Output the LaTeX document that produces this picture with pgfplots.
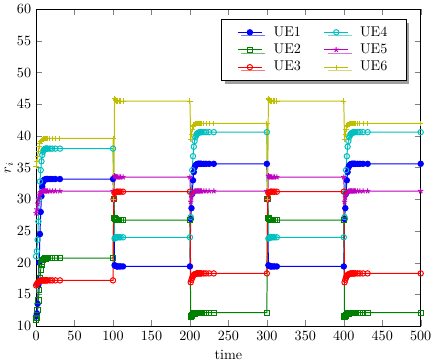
\documentclass[border=0pt]{standalone}
\usepackage{pgfplots}
\usepackage{pgfplotstable}
\pgfplotsset{compat=1.18}
\usetikzlibrary{shadows}
\definecolor{mb}{rgb}{0,0,1}
\definecolor{mg}{rgb}{0,0.5,0}
\definecolor{mr}{rgb}{1,0,0}
\definecolor{mc}{rgb}{0,0.75,0.75}
\definecolor{mm}{rgb}{0.75,0,0.75}
\definecolor{my}{rgb}{0.75,0.75,0}
\pgfplotstableread{
t u1 u2 u3 u4 u5 u6
0 11.5 11.0 16.4 21.0 27.8 35.2
1 12.0 11.3 16.6 21.8 28.4 35.9
2 13.5 12.5 16.8 23.6 29.3 36.8
3 16.5 14.0 16.95 26.5 30.0 37.6
4 20.0 15.7 17.05 30.0 30.6 38.3
5 24.5 17.5 17.1 32.8 30.9 38.8
6 28.0 18.9 17.15 34.6 31.1 39.1
7 30.5 19.7 17.2 36.0 31.2 39.3
8 32.0 20.2 17.2 37.0 31.3 39.45
9 32.7 20.4 17.2 37.5 31.3 39.5
10 33.0 20.55 17.2 37.8 31.3 39.6
11 33.1 20.6 17.2 37.9 31.3 39.6
12 33.15 20.65 17.2 38.0 31.3 39.6
13 33.2 20.7 17.2 38.0 31.3 39.6
14 33.2 20.7 17.2 38.0 31.3 39.6
15 33.2 20.7 17.2 38.0 31.3 39.6
18 33.2 20.7 17.2 38.0 31.3 39.6
21 33.2 20.7 17.2 38.0 31.3 39.6
25 33.2 20.7 17.2 38.0 31.3 39.6
31 33.2 20.7 17.2 38.0 31.3 39.6
100 33.2 20.7 17.2 38.0 31.3 39.6
101 30 30 30 30 30 30
102 19.6 27.0 31.0 23.8 33.7 45.9
103 19.5 26.85 31.1 23.9 33.6 45.7
104 19.45 26.75 31.15 24.0 33.55 45.6
105 19.4 26.7 31.2 24.0 33.5 45.5
106 19.4 26.7 31.2 24.0 33.5 45.5
108 19.4 26.7 31.2 24.0 33.5 45.5
110 19.4 26.7 31.2 24.0 33.5 45.5
113 19.4 26.7 31.2 24.0 33.5 45.5
200 19.4 26.7 31.2 24.0 33.5 45.5
201 26.9 11.5 16.9 27.2 29.6 39.4
202 28.6 11.6 17.3 31.0 30.3 40.3
203 30.9 11.75 17.65 34.6 30.8 41.0
204 33.0 11.85 17.9 36.8 31.0 41.45
205 34.3 11.95 18.05 38.3 31.15 41.7
206 35.0 12.0 18.15 39.2 31.25 41.85
207 35.3 12.05 18.2 39.8 31.3 41.95
208 35.45 12.1 18.25 40.1 31.3 42.0
209 35.55 12.1 18.3 40.3 31.3 42.0
210 35.6 12.1 18.3 40.45 31.3 42.0
211 35.6 12.1 18.3 40.5 31.3 42.0
212 35.6 12.1 18.3 40.55 31.3 42.0
213 35.6 12.1 18.3 40.6 31.3 42.0
214 35.6 12.1 18.3 40.6 31.3 42.0
215 35.6 12.1 18.3 40.6 31.3 42.0
218 35.6 12.1 18.3 40.6 31.3 42.0
221 35.6 12.1 18.3 40.6 31.3 42.0
225 35.6 12.1 18.3 40.6 31.3 42.0
231 35.6 12.1 18.3 40.6 31.3 42.0
300 35.6 12.1 18.3 40.6 31.3 42.0
301 30 30 30 30 30 30
302 19.6 27.0 31.0 23.8 33.7 45.9
303 19.5 26.85 31.1 23.9 33.6 45.7
304 19.45 26.75 31.15 24.0 33.55 45.6
305 19.4 26.7 31.2 24.0 33.5 45.5
306 19.4 26.7 31.2 24.0 33.5 45.5
308 19.4 26.7 31.2 24.0 33.5 45.5
310 19.4 26.7 31.2 24.0 33.5 45.5
313 19.4 26.7 31.2 24.0 33.5 45.5
400 19.4 26.7 31.2 24.0 33.5 45.5
401 26.9 11.5 16.9 27.2 29.6 39.4
402 28.6 11.6 17.3 31.0 30.3 40.3
403 30.9 11.75 17.65 34.6 30.8 41.0
404 33.0 11.85 17.9 36.8 31.0 41.45
405 34.3 11.95 18.05 38.3 31.15 41.7
406 35.0 12.0 18.15 39.2 31.25 41.85
407 35.3 12.05 18.2 39.8 31.3 41.95
408 35.45 12.1 18.25 40.1 31.3 42.0
409 35.55 12.1 18.3 40.3 31.3 42.0
410 35.6 12.1 18.3 40.45 31.3 42.0
411 35.6 12.1 18.3 40.5 31.3 42.0
412 35.6 12.1 18.3 40.55 31.3 42.0
413 35.6 12.1 18.3 40.6 31.3 42.0
414 35.6 12.1 18.3 40.6 31.3 42.0
415 35.6 12.1 18.3 40.6 31.3 42.0
418 35.6 12.1 18.3 40.6 31.3 42.0
421 35.6 12.1 18.3 40.6 31.3 42.0
425 35.6 12.1 18.3 40.6 31.3 42.0
431 35.6 12.1 18.3 40.6 31.3 42.0
500 35.6 12.1 18.3 40.6 31.3 42.0
}\data
\begin{document}
\begin{tikzpicture}
\begin{axis}[
  scale only axis,
  width=272pt, height=224pt,
  xmin=0, xmax=500, ymin=10, ymax=60,
  xtick={0,50,...,500}, ytick={10,15,...,60},
  xlabel={time}, ylabel={$r_i$},
  ylabel style={yshift=-4pt},
  tick style={black!50},
  every axis plot/.append style={line width=0.7pt},
  mark size=1.9pt,
  legend columns=2,
  legend style={at={(0.962,0.969)}, anchor=north east, draw=black, fill=white,
    inner xsep=11pt, inner ysep=3pt,
    row sep=0pt, nodes={inner ysep=2pt},
    drop shadow={shadow xshift=2.5pt, shadow yshift=-2.5pt, fill=black!75},
    /tikz/every odd column/.append style={column sep=6pt},
    /tikz/every even column/.append style={column sep=14pt},
    /tikz/column 4/.append style={column sep=0pt}},
]
\addplot[color=mb, mark=*, mark options={solid, fill=mb}] table[x=t, y=u1] {\data};
\addlegendentry{UE1}
\addplot[color=mc, mark=o, mark options={solid, fill=white}] table[x=t, y=u4] {\data};
\addlegendentry{UE4}
\addplot[color=mg, mark=square, mark options={solid, fill=white}] table[x=t, y=u2] {\data};
\addlegendentry{UE2}
\addplot[color=mm, mark=star, mark options={solid}] table[x=t, y=u5] {\data};
\addlegendentry{UE5}
\addplot[color=mr, mark=o, mark options={solid, fill=white}] table[x=t, y=u3] {\data};
\addlegendentry{UE3}
\addplot[color=my, mark=+, mark options={solid}] table[x=t, y=u6] {\data};
\addlegendentry{UE6}
\end{axis}
\end{tikzpicture}
\end{document}
